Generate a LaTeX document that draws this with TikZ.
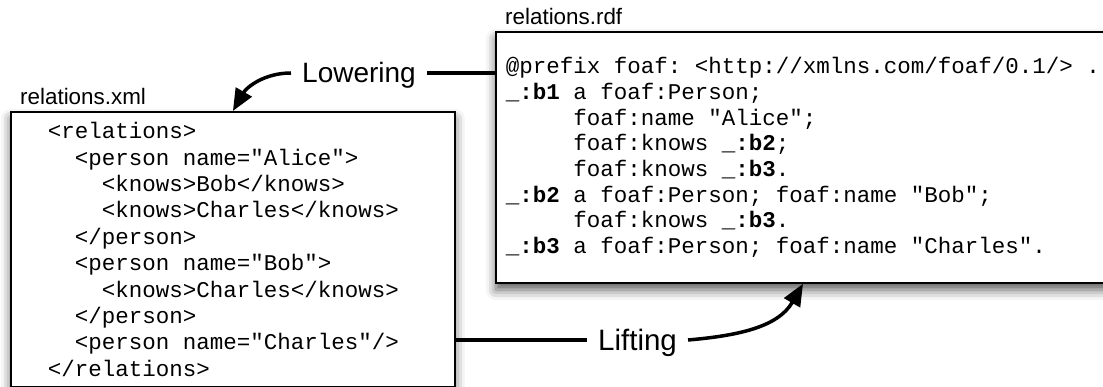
\documentclass[tikz,border=0pt]{standalone}
\usepackage{fontspec}
\setsansfont{Liberation Sans}
\setmonofont{Liberation Mono}
\usetikzlibrary{arrows.meta,shadows.blur}

\newcommand{\blank}[1]{\hspace*{#1\fontdimen2\font}}
\newcommand{\bnode}[1]{\_\textbf{:#1}}

\begin{document}
\begin{tikzpicture}[x=1pt,y=-1pt]
        \useasboundingbox (0,0) rectangle (1103,387);
        % the two files
        \begin{scope}[every node/.style={draw, line width=1.8pt, fill=white, anchor=north west, align=left, inner ysep=0pt,
                        blur shadow={shadow xshift=0pt, shadow yshift=-7pt, shadow blur radius=10pt, shadow opacity=65},
                        execute at begin node={\spaceskip=\fontdimen2\font\xspaceskip=\fontdimen2\font},
                        font=\ttfamily\fontsize{22.5}{26.4}\selectfont\frenchspacing}]
                \node[text width=370pt, inner xsep=37pt, minimum height=275pt] (xml) at (10,111) {%
                        <relations>\\
                        \blank{2}<person name="Alice">\\
                        \blank{4}<knows>Bob</knows>\\
                        \blank{4}<knows>Charles</knows>\\
                        \blank{2}</person>\\
                        \blank{2}<person name="Bob">\\
                        \blank{4}<knows>Charles</knows>\\
                        \blank{2}</person>\\
                        \blank{2}<person name="Charles"/>\\
                        </relations>};
                \node[text width=600pt, inner xsep=10pt, minimum height=251pt,
                        font=\ttfamily\fontsize{22.5}{25.7}\selectfont\frenchspacing] (rdf) at (495,31) {%
                        @prefix foaf: <http://xmlns.com/foaf/0.1/> .\\
                        \bnode{b1} a foaf:Person;\\
                        \blank{5}foaf:name "Alice";\\
                        \blank{5}foaf:knows \bnode{b2};\\
                        \blank{5}foaf:knows \bnode{b3}.\\
                        \bnode{b2} a foaf:Person; foaf:name "Bob";\\
                        \blank{5}foaf:knows \bnode{b3}.\\
                        \bnode{b3} a foaf:Person; foaf:name "Charles".};
        \end{scope}
        % file names
        \begin{scope}[every node/.style={font=\sffamily\fontsize{22.4}{24}\selectfont, inner sep=0pt, anchor=base west}]
                \node (xmlname) at (20,105) {relations.xml};
                \node (rdfname) at (505,25) {relations.rdf};
        \end{scope}
        % mappings
        \begin{scope}[every node/.style={font=\sffamily\fontsize{28}{30}\selectfont, text height=20pt, text depth=0pt,
                        inner xsep=11pt, inner ysep=0pt, anchor=base}]
                \node (low) at (359,83) {Lowering};
                \node[font=\sffamily\fontsize{29.5}{31}\selectfont] (lift) at (637.5,350) {Lifting};
        \end{scope}
        \coordinate (lifttip) at ([xshift=308pt]rdf.south west);
        \begin{scope}[every path/.style={line width=3.5pt, >={Triangle[length=22pt,width=18pt]}}]
                \path (low.east) edge (rdf.west |- low.east);
                \path (low.west) edge[->, out=180, in=60] (xml.north);
                \path (xml.east |- lift.west) edge (lift.west);
                \path (lift.east) edge[->, out=5, in=-120] (lifttip);
        \end{scope}
\end{tikzpicture}
\end{document}
